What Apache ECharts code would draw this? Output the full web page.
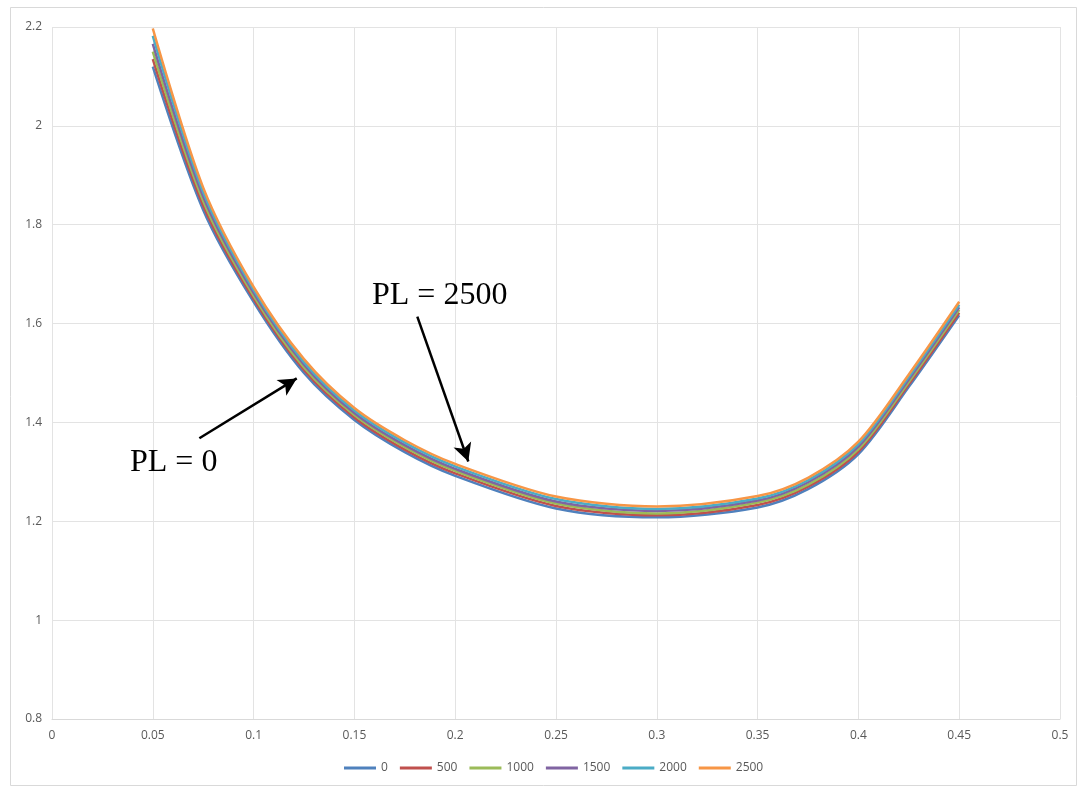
<!DOCTYPE html>
<html>
<head>
<meta charset="utf-8">
<script src="https://cdn.jsdelivr.net/npm/echarts@6/dist/echarts.min.js"></script>
<style>html,body{margin:0;padding:0;background:#fff;}#c{width:1078px;height:789px;}</style>
</head>
<body>
<div id="c"></div>
<script>
const xValues = [0.05, 0.075, 0.1, 0.125, 0.15, 0.175, 0.2, 0.25, 0.3, 0.35, 0.375, 0.4, 0.425, 0.45];
const seriesNames = ['0', '500', '1000', '1500', '2000', '2500'];
const pl0    = [2.120, 1.830, 1.644, 1.500, 1.405, 1.340, 1.292, 1.226, 1.208, 1.228, 1.265, 1.336, 1.472, 1.617];
const pl500  = [2.135, 1.839, 1.650, 1.506, 1.410, 1.345, 1.297, 1.231, 1.212, 1.233, 1.270, 1.341, 1.477, 1.622];
const pl1000 = [2.150, 1.848, 1.656, 1.511, 1.415, 1.350, 1.302, 1.236, 1.216, 1.238, 1.274, 1.346, 1.482, 1.628];
const pl1500 = [2.166, 1.857, 1.662, 1.517, 1.419, 1.354, 1.306, 1.240, 1.221, 1.242, 1.279, 1.351, 1.487, 1.633];
const pl2000 = [2.182, 1.866, 1.668, 1.522, 1.424, 1.359, 1.311, 1.245, 1.225, 1.246, 1.283, 1.356, 1.492, 1.638];
const pl2500 = [2.197, 1.875, 1.674, 1.528, 1.429, 1.364, 1.316, 1.250, 1.230, 1.251, 1.288, 1.361, 1.497, 1.644];
const allValues = [pl0, pl500, pl1000, pl1500, pl2000, pl2500];
const colors = ['#4F81BD', '#C0504D', '#9BBB59', '#8064A2', '#4BACC6', '#F79646'];
// annotation arrows in data coordinates: [from, to]
const arrow2500 = [[0.1812, 1.614], [0.2065, 1.321]];
const arrow0 = [[0.0731, 1.368], [0.1214, 1.489]];

const chart = echarts.init(document.getElementById('c'), null, {renderer: 'canvas'});
const labelFont = {color: '#595959', fontSize: 12, fontFamily: 'Open Sans, Liberation Sans, sans-serif'};
const series = seriesNames.map((n, i) => ({
  name: n,
  type: 'line',
  data: xValues.map((x, j) => [x, allValues[i][j]]),
  smooth: 0.3,
  symbol: 'none',
  lineStyle: {width: 2.5, color: colors[i]},
  itemStyle: {color: colors[i]},
  z: 2 + i,
  silent: true
}));
series.push({
  name: 'annot',
  type: 'line',
  data: [],
  silent: true,
  markLine: {
    silent: true,
    symbol: ['none', 'arrow'],
    symbolSize: [14, 18],
    label: {show: false},
    lineStyle: {color: '#000', width: 2.5, type: 'solid'},
    emphasis: {disabled: true},
    data: [
      [{coord: arrow2500[0]}, {coord: arrow2500[1]}],
      [{coord: arrow0[0]}, {coord: arrow0[1]}]
    ]
  },
  z: 20
});
chart.setOption({
  animation: false,
  backgroundColor: '#fff',
  grid: {left: 52, right: 18, top: 27, bottom: 70},
  xAxis: {
    type: 'value', min: 0, max: 0.5, interval: 0.05,
    axisLine: {show: true, lineStyle: {color: '#d9d9d9', width: 1}},
    axisTick: {show: false},
    splitLine: {show: true, lineStyle: {color: '#e3e3e3', width: 1}},
    axisLabel: Object.assign({margin: 11, formatter: v => String(+v.toFixed(2))}, labelFont)
  },
  yAxis: {
    type: 'value', min: 0.8, max: 2.2, interval: 0.2,
    axisLine: {show: false},
    axisTick: {show: false},
    splitLine: {show: true, lineStyle: {color: '#e3e3e3', width: 1}},
    axisLabel: Object.assign({margin: 10, formatter: v => String(+v.toFixed(1))}, labelFont)
  },
  legend: {
    data: seriesNames,
    bottom: 10,
    left: 339,
    icon: 'rect',
    itemWidth: 32,
    itemHeight: 3,
    itemGap: 12,
    textStyle: labelFont,
    selectedMode: false
  },
  graphic: [
    {type: 'rect', shape: {x: 10.5, y: 7.5, width: 1066, height: 778}, style: {fill: 'none', stroke: '#d9d9d9', lineWidth: 1}, silent: true, z: -1},
    {type: 'text', left: 372, top: 280, style: {text: 'PL = 2500', font: '32px "Liberation Serif", "Times New Roman", serif', fill: '#000'}, z: 30},
    {type: 'text', left: 130, top: 447, style: {text: 'PL = 0', font: '32px "Liberation Serif", "Times New Roman", serif', fill: '#000'}, z: 30}
  ],
  series: series
});
</script>
</body>
</html>
